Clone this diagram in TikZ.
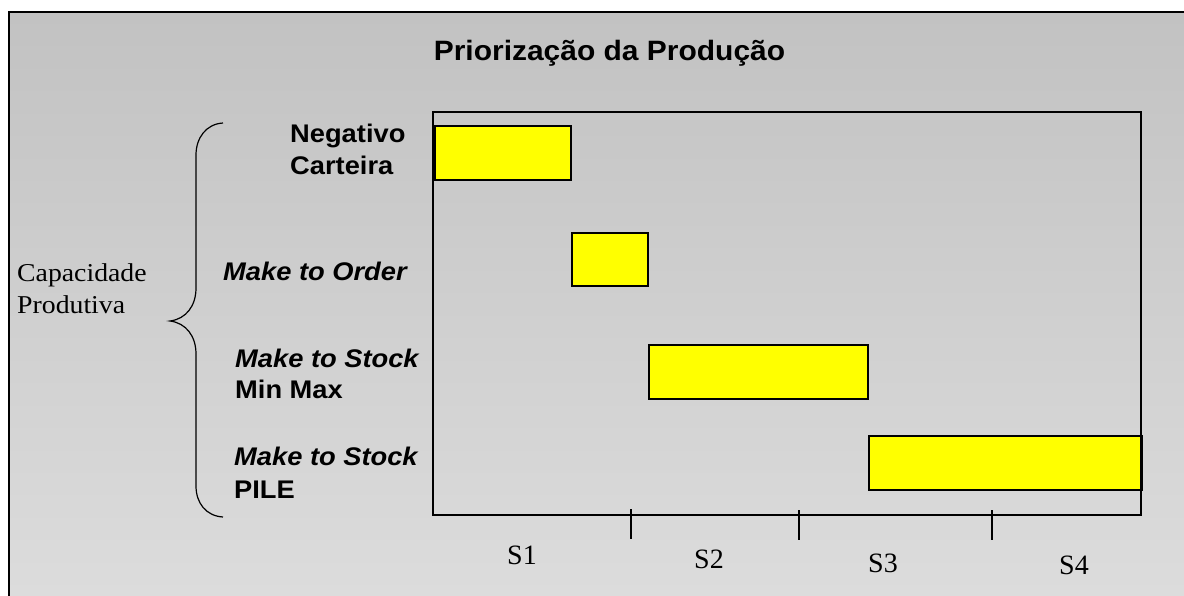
\documentclass[tikz,border=0pt]{standalone}
\usepackage{fontspec}
\setmainfont{Liberation Serif}[FakeStretch=1.08]
\newfontfamily\timesfont{Liberation Serif}
\newfontfamily\arialfont{Liberation Sans}[FakeStretch=1.07]
\usetikzlibrary{positioning}

\definecolor{bgtop}{RGB}{194,194,194}
\definecolor{bgbot}{RGB}{220,220,220}
\definecolor{barfill}{RGB}{255,255,0}

\begin{document}
\begin{tikzpicture}[
	x=1pt, y=-1pt,
	bar/.style = {rectangle, draw=black, fill=barfill, line width=1.6pt, inner sep=0pt, anchor=north west},
	lbl/.style = {inner sep=0pt, anchor=base west, font=\arialfont\bfseries\fontsize{25.5}{30}\selectfont},
	ilbl/.style = {lbl, font=\arialfont\bfseries\itshape\fontsize{25.5}{30}\selectfont},
	srf/.style = {inner sep=0pt, anchor=base west, font=\fontsize{25.7}{30}\selectfont},
	sem/.style = {inner sep=0pt, anchor=base, font=\timesfont\fontsize{28}{32}\selectfont},
	frm/.style = {draw=black, line width=1.3pt},
	tck/.style = {draw=black, line width=1.5pt}
	]
	\useasboundingbox (0,0) rectangle (1184,596);
	
	%Background
	\shade[top color=bgtop, bottom color=bgbot] (9,12) rectangle (1184,596);
	\draw[frm]	(9,596) -- (9,12) -- (1184,12);
	
	%Nodes
	\node[anchor=base, inner sep=0pt, font=\arialfont\bfseries\fontsize{28}{32}\selectfont]	(title)	at	(609.5,61)	{Priorização da Produção};
	
	\node[lbl]	(neg1)	at	(290,143)	{Negativo};
	\node[lbl]	(neg2)	at	(290,175)	{Carteira};
	\node[ilbl]	(mto)	at	(223,280)	{Make to Order};
	\node[ilbl]	(mts1)	at	(235,367)	{Make to Stock};
	\node[lbl]	(mnx)	at	(235,398)	{Min Max};
	\node[ilbl]	(mts2)	at	(234,465)	{Make to Stock};
	\node[lbl]	(pile)	at	(234,498)	{PILE};
	
	\node[srf]	(cap1)	at	(17,282)	{Capacidade};
	\node[srf]	(cap2)	at	(17,313)	{Produtiva};
	
	\node[bar, minimum width=136pt, minimum height=54pt]	(b1)	at	(434,125)	{};
	\node[bar, minimum width=76pt, minimum height=53pt]	(b2)	at	(571,232)	{};
	\node[bar, minimum width=219pt, minimum height=54pt]	(b3)	at	(648,344)	{};
	\node[bar, minimum width=273pt, minimum height=54pt]	(b4)	at	(868,435)	{};
	
	\node[sem]	(s1)	at	(522,564)	{S1};
	\node[sem]	(s2)	at	(709,568)	{S2};
	\node[sem]	(s3)	at	(883,572)	{S3};
	\node[sem]	(s4)	at	(1074,574)	{S4};
	
	%Lines
	\draw[frm]	(433,112) rectangle (1141,515);
	\draw[tck]	(631,509) -- (631,539);
	\draw[tck]	(799,510) -- (799,540);
	\draw[tck]	(992,510) -- (992,540);
	
	%Brace
	\draw[line width=1.2pt]	(223,123) .. controls (206,124) and (196,138) .. (196,155)
		-- (196,288) .. controls (196,306) and (186,319) .. (170,321)
		.. controls (186,323) and (196,336) .. (196,354)
		-- (196,486) .. controls (196,503) and (206,516) .. (223,517);
\end{tikzpicture}
\end{document}
